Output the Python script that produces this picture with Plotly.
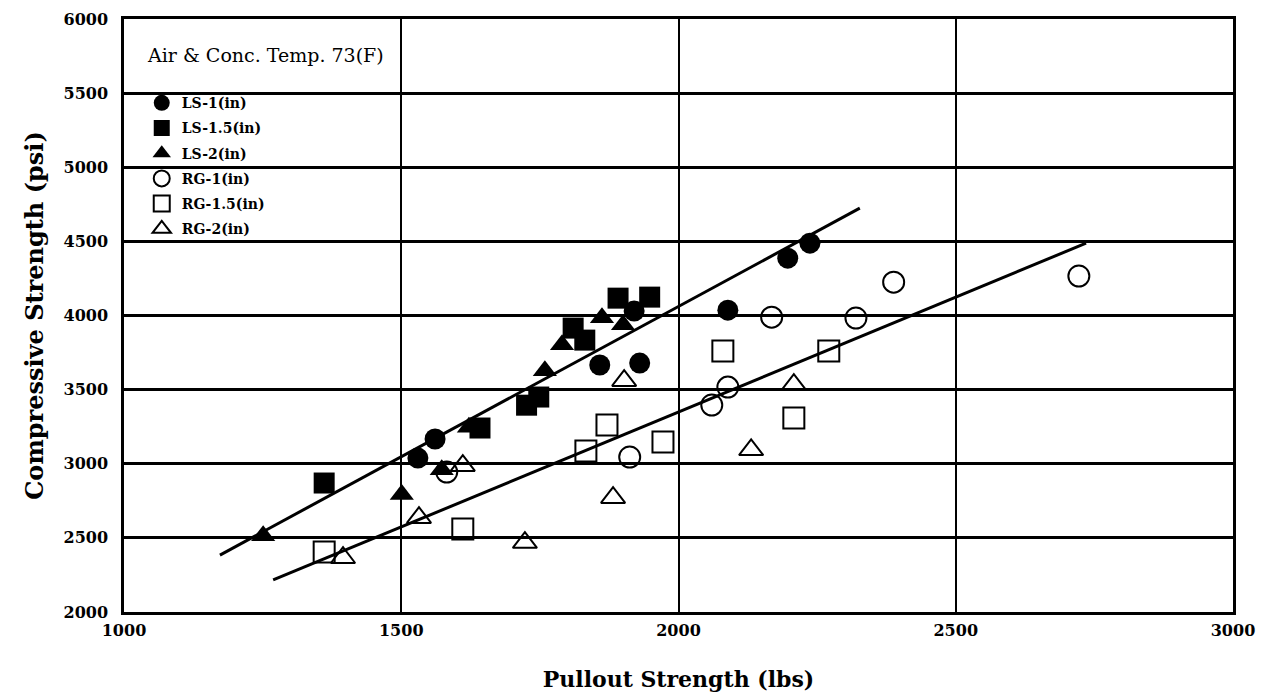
import plotly.graph_objects as go

# ---- data ----
ls1_x = [1530, 1561, 1858, 1920, 1930, 2089, 2197, 2237]
ls1_y = [3038, 3167, 3666, 4030, 3679, 4036, 4387, 4488]

ls15_x = [1361, 1642, 1726, 1748, 1810, 1831, 1891, 1948]
ls15_y = [2870, 3241, 3395, 3450, 3915, 3834, 4117, 4124]

ls2_x = [1251, 1501, 1573, 1622, 1759, 1790, 1862, 1900]
ls2_y = [2515, 2792, 2960, 3247, 3627, 3803, 3985, 3938]

rg1_x = [1582, 1912, 2060, 2089, 2168, 2320, 2388, 2722]
rg1_y = [2944, 3045, 3396, 3517, 3989, 3983, 4225, 4266]

rg15_x = [1361, 1611, 1833, 1871, 1972, 2080, 2208, 2271]
rg15_y = [2405, 2560, 3086, 3261, 3146, 3760, 3308, 3760]

rg2_x = [1395, 1532, 1611, 1723, 1882, 1902, 2131, 2208]
rg2_y = [2366, 2636, 2987, 2468, 2771, 3560, 3094, 3533]

fit_ls_x = [1173, 2327]
fit_ls_y = [2384, 4724]
fit_rg_x = [1269, 2735]
fit_rg_y = [2216, 4488]

x_ticks = [1000, 1500, 2000, 2500, 3000]
y_ticks = [2000, 2500, 3000, 3500, 4000, 4500, 5000, 5500, 6000]

series = [
    ("LS-1(in)", ls1_x, ls1_y, "circle", 21),
    ("LS-1.5(in)", ls15_x, ls15_y, "square", 21),
    ("LS-2(in)", ls2_x, ls2_y, "triangle-up", 21),
    ("RG-1(in)", rg1_x, rg1_y, "circle-open", 21),
    ("RG-1.5(in)", rg15_x, rg15_y, "square-open", 21),
    ("RG-2(in)", rg2_x, rg2_y, "triangle-up-open", 21),
]

FONT = "DejaVu Serif"

fig = go.Figure()

for fx, fy in [(fit_ls_x, fit_ls_y), (fit_rg_x, fit_rg_y)]:
    fig.add_trace(go.Scatter(x=fx, y=fy, mode="lines",
                             line=dict(color="black", width=3),
                             showlegend=False, hoverinfo="skip"))

for i, (name, xs, ys, sym, sz) in enumerate(series):
    is_open = sym.endswith("open")
    fig.add_trace(go.Scatter(
        x=xs, y=ys, mode="markers", name=name, legendgroup=f"g{i}",
        marker=dict(symbol=sym, size=sz, color="black",
                    line=dict(color="black", width=2 if is_open else 0)),
    ))

fig.add_annotation(xref="paper", yref="paper", x=0.019, y=0.939,
                   xanchor="left", yanchor="middle", showarrow=False,
                   text="Air & Conc. Temp. 73(F)",
                   font=dict(family=FONT, size=19, color="black"))

fig.update_layout(
    width=1281, height=693,
    margin=dict(l=116, r=56, t=11, b=89),
    paper_bgcolor="white", plot_bgcolor="white",
    font=dict(family=FONT, color="black"),
    legend=dict(x=0.016, y=0.885, xanchor="left", yanchor="top",
                bgcolor="rgba(0,0,0,0)", borderwidth=0,
                font=dict(family=FONT, size=14, color="black", weight="bold"),
                traceorder="grouped", tracegroupgap=4, itemsizing="trace"),
    xaxis=dict(range=[1000, 3000], tickvals=x_ticks,
               ticktext=[str(v) for v in x_ticks], automargin=False,
               showgrid=True, gridcolor="black", gridwidth=1.5,
               showline=True, linecolor="black", linewidth=2.5, mirror=True,
               ticks="", zeroline=False, ticklabelstandoff=2,
               tickfont=dict(family=FONT, size=16, weight="bold"),
               title=dict(text="Pullout Strength (lbs)",
                          font=dict(family=FONT, size=22, weight="bold"),
                          standoff=33)),
    yaxis=dict(range=[2000, 6000], tickvals=y_ticks,
               ticktext=[str(v) for v in y_ticks], automargin=False,
               showgrid=True, gridcolor="black", gridwidth=2.5,
               showline=True, linecolor="black", linewidth=2.5, mirror=True,
               ticks="", zeroline=False, ticklabelstandoff=10,
               tickfont=dict(family=FONT, size=16, weight="bold"),
               title=dict(text="Compressive Strength (psi)",
                          font=dict(family=FONT, size=24, weight="bold"),
                          standoff=14)),
)

fig.write_html("out.html")
